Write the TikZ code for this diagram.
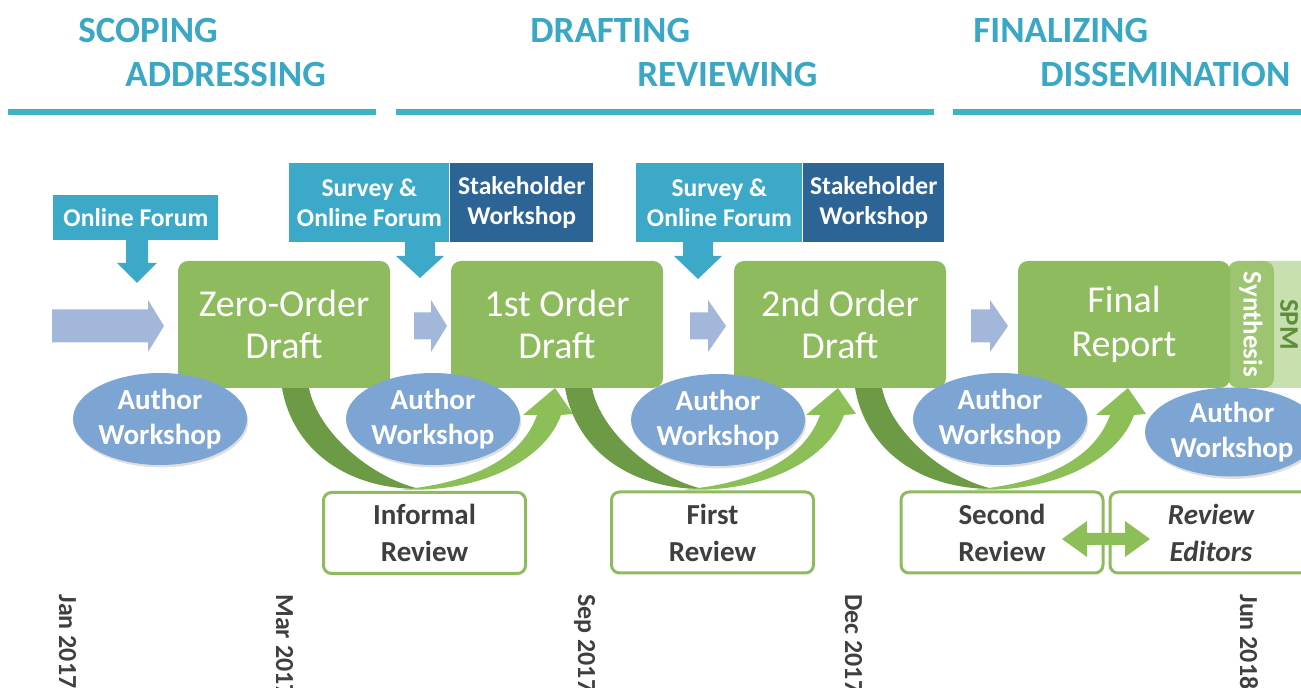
\documentclass[tikz,border=0pt]{standalone}
\usepackage{fontspec}
\setmainfont{Carlito}
\usetikzlibrary{shapes.geometric,shadows}
\definecolor{headteal}{HTML}{3AA7C4}
\definecolor{lineteal}{HTML}{3FB3C6}
\definecolor{forumblue}{HTML}{3DA9C9}
\definecolor{stakeblue}{HTML}{2D6496}
\definecolor{draftgreen}{HTML}{8DBB5E}
\definecolor{synthgreen}{HTML}{9DC571}
\definecolor{spmgreen}{HTML}{C8E0AF}
\definecolor{spmtext}{HTML}{5E8E3A}
\definecolor{arcdark}{HTML}{6D9A44}
\definecolor{arclight}{HTML}{8DBF58}
\definecolor{chevblue}{HTML}{A2B7D9}
\definecolor{authblue}{HTML}{7DA5D3}
\definecolor{txtgray}{HTML}{3F3F3F}
\begin{document}
\begin{tikzpicture}[x=0.5pt, y=-0.5pt, line join=round,
    phase/.style={text=headteal, font=\fontsize{18.5}{22}\selectfont\bfseries, anchor=base west, inner sep=0pt},
    forum/.style={fill=forumblue, text=white, font=\fontsize{12.8}{15}\selectfont\bfseries, align=center, inner sep=0pt, anchor=north west, minimum height=39.5pt},
    stake/.style={forum, fill=stakeblue},
    draft/.style={fill=draftgreen, rounded corners=5pt, text=white, font=\fontsize{19}{21}\selectfont, align=center, minimum width=106pt, minimum height=63.5pt},
    strip/.style={rotate=-90, rounded corners=5pt, font=\fontsize{13.5}{15}\selectfont\bfseries, inner sep=0pt, minimum width=63.5pt},
    author/.style={ellipse, fill=authblue, text=white, font=\fontsize{14.5}{17.5}\selectfont\bfseries, align=center, inner sep=0pt, minimum width=80pt, minimum height=46pt, drop shadow={opacity=0.25, shadow xshift=0.6pt, shadow yshift=-1.2pt}},
    review/.style={draw=draftgreen, line width=1.5pt, fill=white, rounded corners=4pt, text=txtgray, font=\fontsize{14.5}{18.5}\selectfont\bfseries, align=center, minimum width=101pt, minimum height=40.5pt},
    date/.style={rotate=-90, anchor=mid west, text=txtgray, font=\fontsize{13}{15}\selectfont\bfseries, inner sep=0pt},
    chev/.style={fill=chevblue}]
    \useasboundingbox (0,0) rectangle (1301,688);
    \clip (0,0) rectangle (1301,688);
    \node[phase] (scoping) at (78,43) {SCOPING};
    \node[phase] (addressing) at (125,87) {ADDRESSING};
    \node[phase] (drafting) at (530,43) {DRAFTING};
    \node[phase] (reviewing) at (637,87) {REVIEWING};
    \node[phase] (finalizing) at (973,43) {FINALIZING};
    \node[phase] (dissemination) at (1040,87) {DISSEMINATION};
    \foreach \a/\b in {8/376, 396/934, 953/1301} \fill[lineteal] (\a,109) rectangle (\b,115);
    \node[forum, minimum width=82.5pt, minimum height=22.5pt] (online) at (53,195) {Online Forum};
    \node[forum, minimum width=80pt] (survey1) at (289,163) {Survey \&\\Online Forum};
    \node[stake, minimum width=71.5pt] (stake1) at (survey1.north east) {Stakeholder\\Workshop};
    \node[forum, minimum width=83pt] (survey2) at (636,163) {Survey \&\\Online Forum};
    \node[stake, minimum width=70.5pt] (stake2) at (survey2.north east) {Stakeholder\\Workshop};
    \foreach \cx/\ya/\yb/\yc/\s/\h in {137/240/263/283/11/20, 420/242/256/278/15/24, 698/242/256/279/15/24}
        \fill[forumblue] (\cx-\s,\ya) -- (\cx+\s,\ya) -- (\cx+\s,\yb) -- (\cx+\h,\yb) -- (\cx,\yc) -- (\cx-\h,\yb) -- (\cx-\s,\yb) -- cycle;
    \foreach \a/\b/\c/\w in {52/148/164/16.5, 414/431/447/13.5, 690/708/726/13.5, 971/990/1008/16.5}
        \fill[chev] (\a,{326-\w}) -- (\b,{326-\w}) -- (\b,300) -- (\c,326) -- (\b,352) -- (\b,{326+\w}) -- (\a,{326+\w}) -- cycle;
    \foreach \o in {282,565,855} {
        \begin{scope}[shift={(\o,388)}]
            \fill[arcdark] (0,0) .. controls (10,58) and (60,101) .. (138,101) .. controls (90,90) and (36,45) .. (27,0) -- cycle;
            \fill[arclight] (120,101.5) .. controls (202,105) and (264,70) .. (279,27) -- (291,26) -- (273,0) -- (241,27) -- (255,27) .. controls (240,70) and (190,95) .. (120,101.5) -- cycle;
        \end{scope}
    }
    \node[strip, fill=spmgreen, text=spmtext, minimum height=38pt] (spm) at (1289,324.5) {SPM};
    \node[strip, fill=synthgreen, text=white, minimum height=23pt] (synthesis) at (1251,324.5) {Synthesis};
    \node[draft] (zero) at (284,324.5) {Zero-Order\\Draft};
    \node[draft] (first) at (557,324.5) {1st Order\\Draft};
    \node[draft] (second) at (840,324.5) {2nd Order\\Draft};
    \node[draft] (final) at (1124,324.5) {Final\\[1pt]Report};
    \node[author] (aw1) at (160,419) {Author\\Workshop};
    \node[author] (aw2) at (433,419) {Author\\Workshop};
    \node[author] (aw3) at (718,420) {Author\\Workshop};
    \node[author] (aw4) at (1000,419) {Author\\Workshop};
    \node[author, minimum width=85pt, minimum height=44.5pt] (aw5) at (1232,432) {Author\\Workshop};
    \node[review] (informal) at (424.5,533) {Informal\\Review};
    \node[review] (firstrev) at (712.5,532.5) {First\\Review};
    \node[review] (secondrev) at (1002,532.5) {Second\\Review};
    \node[review, font=\fontsize{14.5}{18.5}\selectfont\bfseries\itshape] (editors) at (1211,532.5) {Review\\Editors};
    \fill[arclight] (1062,539) -- (1087,521) -- (1087,533) -- (1125,533) -- (1125,521) -- (1150,539) -- (1125,557) -- (1125,545) -- (1087,545) -- (1087,557) -- cycle;
    \foreach \x/\d in {64/Jan 2017, 281/Mar 2017, 583/Sep 2017, 850/Dec 2017, 1245/Jun 2018}
        \node[date] (d\x) at (\x,594) {\d};
\end{tikzpicture}
\end{document}
